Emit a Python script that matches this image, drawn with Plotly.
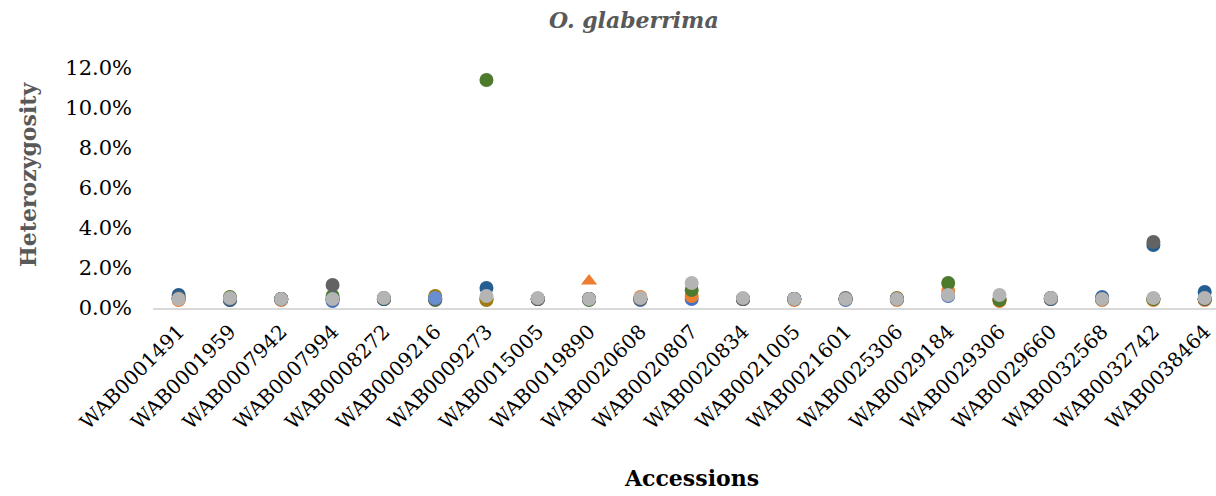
import plotly.graph_objects as go

accessions = ["WAB0001491", "WAB0001959", "WAB0007942", "WAB0007994", "WAB0008272",
              "WAB0009216", "WAB0009273", "WAB0015005", "WAB0019890", "WAB0020608",
              "WAB0020807", "WAB0020834", "WAB0021005", "WAB0021601", "WAB0025306",
              "WAB0029184", "WAB0029306", "WAB0029660", "WAB0032568", "WAB0032742",
              "WAB0038464"]

# heterozygosity (%) per series (None = not visible)
s_blue     = [0.45, 0.40, 0.45, 0.35, 0.45, 0.45, 0.45, 0.45, 0.45, 0.40, 0.45, 0.45, 0.45, 0.40, 0.45, 0.60, 0.45, 0.45, 0.55, 0.45, 0.45]
s_orange   = [0.40, 0.50, 0.40, 0.45, 0.45, 0.45, 0.50, 0.45, 0.45, 0.55, 0.60, 0.45, 0.40, 0.45, 0.40, 0.85, 0.35, 0.45, 0.40, 0.40, 0.40]
s_gold     = [0.50, 0.45, 0.45, 0.45, 0.45, 0.60, 0.40, 0.45, 0.45, 0.45, None, 0.45, 0.45, 0.45, 0.50, None, 0.45, 0.45, 0.45, 0.45, 0.45]
s_green    = [0.50, 0.55, 0.45, 0.60, 0.45, 0.40, 11.40, 0.45, 0.40, 0.45, 0.90, 0.45, 0.45, 0.45, 0.45, 1.25, 0.40, 0.50, 0.45, 0.45, 0.45]
s_darkblue = [0.65, 0.40, 0.45, 0.45, 0.45, 0.45, 1.00, 0.45, 0.45, 0.45, None, 0.45, 0.45, 0.45, 0.45, None, None, 0.45, 0.50, 3.15, 0.80]
s_darkgray = [0.50, 0.45, 0.45, 1.15, 0.50, 0.45, None, 0.45, 0.45, 0.45, None, 0.45, 0.45, 0.50, 0.45, None, None, 0.50, 0.45, 3.30, 0.45]
s_triangle = [None, None, None, None, None, None, None, None, 1.35, None, None, None, None, None, None, None, None, None, None, None, None]
s_gray     = [0.45, 0.50, 0.45, 0.45, 0.50, None, 0.60, 0.50, 0.45, 0.50, 1.25, 0.50, 0.45, 0.45, 0.45, 0.65, 0.65, 0.50, 0.45, 0.50, 0.50]
s_lightblue = [None, None, None, None, None, 0.50, None, None, None, None, None, None, None, None, None, None, None, None, None, None, None]

y_ticks = [0, 2, 4, 6, 8, 10, 12]
y_tick_labels = ["0.0%", "2.0%", "4.0%", "6.0%", "8.0%", "10.0%", "12.0%"]

series = [
    ("Series 1", s_blue, "#4472C4", "circle"),
    ("Series 2", s_orange, "#ED7D31", "circle"),
    ("Series 3", s_gold, "#A07A10", "circle"),
    ("Series 4", s_green, "#4E7A2E", "circle"),
    ("Series 5", s_darkblue, "#255E91", "circle"),
    ("Series 6", s_darkgray, "#636363", "circle"),
    ("Series 7", s_triangle, "#ED7D31", "triangle-up"),
    ("Series 8", s_gray, "#B4B4B4", "circle"),
    ("Series 9", s_lightblue, "#698ED0", "circle"),
]

fig = go.Figure()
for name, vals, color, sym in series:
    fig.add_trace(go.Scatter(
        x=accessions, y=vals, mode="markers", name=name,
        marker=dict(color=color, size=14, symbol=sym, line=dict(width=0)),
        cliponaxis=False,
    ))

serif = "DejaVu Serif"

plot_l, plot_r = 153, 1216
plot_t, plot_b = 68, 308
def px_x(px):
    return (px - plot_l) / (plot_r - plot_l)
def px_y(py):
    return (plot_b - py) / (plot_b - plot_t)

fig.update_layout(
    width=1216, height=496,
    margin=dict(l=plot_l, r=1216 - plot_r, t=plot_t, b=496 - plot_b),
    plot_bgcolor="white", paper_bgcolor="white",
    showlegend=False,
    font=dict(family=serif, size=20, color="black"),
    xaxis=dict(
        type="category", range=[-0.5, 20.22],
        tickangle=-45, showgrid=False, zeroline=False,
        showline=True, linecolor="#D9D9D9", linewidth=2,
        tickfont=dict(family=serif, size=20, color="black"),
        ticks="", ticklabelstandoff=2,
    ),
    yaxis=dict(
        range=[0, 12], tickvals=y_ticks, ticktext=y_tick_labels,
        showgrid=False, zeroline=False, showline=False,
        tickfont=dict(family=serif, size=21, color="black"),
        ticklabelstandoff=20,
    ),
    annotations=[
        dict(text="<b><i>O. glaberrima</i></b>", x=px_x(634), y=px_y(20),
             xref="paper", yref="paper", xanchor="center", yanchor="middle",
             showarrow=False, font=dict(family=serif, size=22, color="#595959")),
        dict(text="<b>Heterozygosity</b>", textangle=-90, x=px_x(28), y=px_y(175),
             xref="paper", yref="paper", xanchor="center", yanchor="middle",
             showarrow=False, font=dict(family=serif, size=22, color="#595959")),
        dict(text="<b>Accessions</b>", x=px_x(691), y=px_y(478),
             xref="paper", yref="paper", xanchor="center", yanchor="middle",
             showarrow=False, font=dict(family=serif, size=22, color="black")),
    ],
)

fig.write_html("out.html")
